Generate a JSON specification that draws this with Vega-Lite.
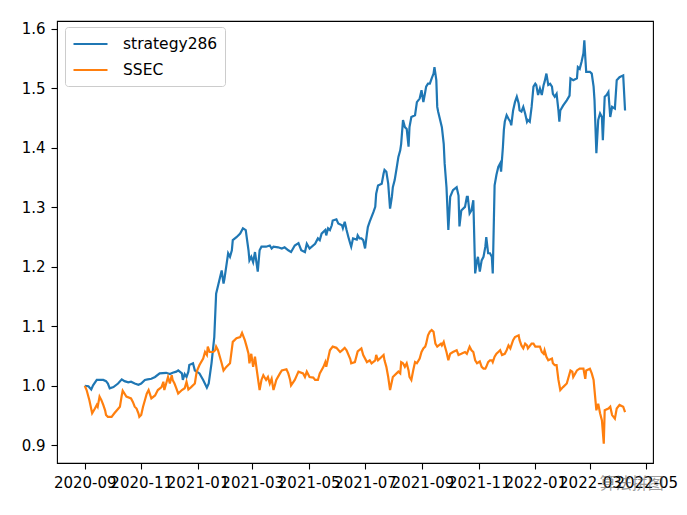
{
  "$schema": "https://vega.github.io/schema/vega-lite/v6.json",
  "width": 596,
  "height": 442,
  "autosize": {"type": "none"},
  "padding": {"left": 57, "top": 21, "right": 34, "bottom": 52},
  "background": "white",
  "config": {
    "font": "DejaVu Sans",
    "view": {"stroke": "black", "strokeWidth": 1.1},
    "axis": {"domain": false, "grid": false, "ticks": true, "tickColor": "black", "tickSize": 6, "tickWidth": 1.1, "labelFont": "DejaVu Sans", "labelFontSize": 15, "labelColor": "black", "labelPadding": 6, "title": null, "labelOverlap": false, "labelFlush": false, "labelBound": false}
  },
  "title": {"text": "算法拼图", "orient": "bottom", "anchor": "end", "font": "Noto Sans CJK SC", "fontSize": 16, "fontWeight": "normal", "color": "rgba(90,90,90,0.6)", "offset": -14, "dx": -14},
  "datasets": {
    "rows": [
      {"date":"2020-09-01","series":"strategy286","value":1.000},
      {"date":"2020-09-05","series":"strategy286","value":0.9995},
      {"date":"2020-09-08","series":"strategy286","value":0.994},
      {"date":"2020-09-10","series":"strategy286","value":1.001},
      {"date":"2020-09-14","series":"strategy286","value":1.010},
      {"date":"2020-09-21","series":"strategy286","value":1.010},
      {"date":"2020-09-24","series":"strategy286","value":1.008},
      {"date":"2020-09-26","series":"strategy286","value":1.004},
      {"date":"2020-09-28","series":"strategy286","value":0.996},
      {"date":"2020-10-02","series":"strategy286","value":0.998},
      {"date":"2020-10-07","series":"strategy286","value":1.004},
      {"date":"2020-10-11","series":"strategy286","value":1.011},
      {"date":"2020-10-14","series":"strategy286","value":1.008},
      {"date":"2020-10-18","series":"strategy286","value":1.006},
      {"date":"2020-10-21","series":"strategy286","value":1.007},
      {"date":"2020-10-25","series":"strategy286","value":1.004},
      {"date":"2020-10-29","series":"strategy286","value":1.002},
      {"date":"2020-11-01","series":"strategy286","value":1.004},
      {"date":"2020-11-05","series":"strategy286","value":1.010},
      {"date":"2020-11-08","series":"strategy286","value":1.011},
      {"date":"2020-11-12","series":"strategy286","value":1.012},
      {"date":"2020-11-16","series":"strategy286","value":1.015},
      {"date":"2020-11-21","series":"strategy286","value":1.021},
      {"date":"2020-11-28","series":"strategy286","value":1.022},
      {"date":"2020-12-02","series":"strategy286","value":1.020},
      {"date":"2020-12-05","series":"strategy286","value":1.022},
      {"date":"2020-12-09","series":"strategy286","value":1.024},
      {"date":"2020-12-11","series":"strategy286","value":1.026},
      {"date":"2020-12-15","series":"strategy286","value":1.021},
      {"date":"2020-12-16","series":"strategy286","value":1.010},
      {"date":"2020-12-18","series":"strategy286","value":1.020},
      {"date":"2020-12-20","series":"strategy286","value":1.015},
      {"date":"2020-12-22","series":"strategy286","value":1.024},
      {"date":"2020-12-23","series":"strategy286","value":1.035},
      {"date":"2020-12-27","series":"strategy286","value":1.038},
      {"date":"2020-12-29","series":"strategy286","value":1.026},
      {"date":"2020-12-31","series":"strategy286","value":1.024},
      {"date":"2021-01-03","series":"strategy286","value":1.021},
      {"date":"2021-01-07","series":"strategy286","value":1.010},
      {"date":"2021-01-11","series":"strategy286","value":0.997},
      {"date":"2021-01-13","series":"strategy286","value":1.004},
      {"date":"2021-01-16","series":"strategy286","value":1.038},
      {"date":"2021-01-19","series":"strategy286","value":1.082},
      {"date":"2021-01-21","series":"strategy286","value":1.155},
      {"date":"2021-01-27","series":"strategy286","value":1.194},
      {"date":"2021-01-29","series":"strategy286","value":1.172},
      {"date":"2021-01-30","series":"strategy286","value":1.180},
      {"date":"2021-02-03","series":"strategy286","value":1.223},
      {"date":"2021-02-05","series":"strategy286","value":1.217},
      {"date":"2021-02-07","series":"strategy286","value":1.228},
      {"date":"2021-02-08","series":"strategy286","value":1.245},
      {"date":"2021-02-12","series":"strategy286","value":1.250},
      {"date":"2021-02-16","series":"strategy286","value":1.256},
      {"date":"2021-02-19","series":"strategy286","value":1.265},
      {"date":"2021-02-22","series":"strategy286","value":1.262},
      {"date":"2021-02-25","series":"strategy286","value":1.228},
      {"date":"2021-02-26","series":"strategy286","value":1.211},
      {"date":"2021-02-28","series":"strategy286","value":1.217},
      {"date":"2021-03-02","series":"strategy286","value":1.208},
      {"date":"2021-03-04","series":"strategy286","value":1.225},
      {"date":"2021-03-06","series":"strategy286","value":1.203},
      {"date":"2021-03-07","series":"strategy286","value":1.192},
      {"date":"2021-03-09","series":"strategy286","value":1.228},
      {"date":"2021-03-11","series":"strategy286","value":1.234},
      {"date":"2021-03-16","series":"strategy286","value":1.234},
      {"date":"2021-03-20","series":"strategy286","value":1.236},
      {"date":"2021-03-22","series":"strategy286","value":1.231},
      {"date":"2021-03-24","series":"strategy286","value":1.234},
      {"date":"2021-03-29","series":"strategy286","value":1.233},
      {"date":"2021-04-02","series":"strategy286","value":1.231},
      {"date":"2021-04-05","series":"strategy286","value":1.233},
      {"date":"2021-04-09","series":"strategy286","value":1.228},
      {"date":"2021-04-12","series":"strategy286","value":1.225},
      {"date":"2021-04-16","series":"strategy286","value":1.236},
      {"date":"2021-04-20","series":"strategy286","value":1.240},
      {"date":"2021-04-23","series":"strategy286","value":1.228},
      {"date":"2021-04-27","series":"strategy286","value":1.225},
      {"date":"2021-04-29","series":"strategy286","value":1.239},
      {"date":"2021-05-02","series":"strategy286","value":1.231},
      {"date":"2021-05-08","series":"strategy286","value":1.239},
      {"date":"2021-05-11","series":"strategy286","value":1.248},
      {"date":"2021-05-13","series":"strategy286","value":1.245},
      {"date":"2021-05-15","series":"strategy286","value":1.256},
      {"date":"2021-05-19","series":"strategy286","value":1.262},
      {"date":"2021-05-20","series":"strategy286","value":1.253},
      {"date":"2021-05-22","series":"strategy286","value":1.265},
      {"date":"2021-05-24","series":"strategy286","value":1.262},
      {"date":"2021-05-26","series":"strategy286","value":1.270},
      {"date":"2021-05-27","series":"strategy286","value":1.278},
      {"date":"2021-05-31","series":"strategy286","value":1.280},
      {"date":"2021-06-02","series":"strategy286","value":1.273},
      {"date":"2021-06-06","series":"strategy286","value":1.270},
      {"date":"2021-06-07","series":"strategy286","value":1.265},
      {"date":"2021-06-09","series":"strategy286","value":1.276},
      {"date":"2021-06-11","series":"strategy286","value":1.262},
      {"date":"2021-06-13","series":"strategy286","value":1.250},
      {"date":"2021-06-15","series":"strategy286","value":1.239},
      {"date":"2021-06-16","series":"strategy286","value":1.234},
      {"date":"2021-06-18","series":"strategy286","value":1.248},
      {"date":"2021-06-22","series":"strategy286","value":1.246},
      {"date":"2021-06-23","series":"strategy286","value":1.253},
      {"date":"2021-06-25","series":"strategy286","value":1.248},
      {"date":"2021-06-27","series":"strategy286","value":1.248},
      {"date":"2021-06-29","series":"strategy286","value":1.245},
      {"date":"2021-07-01","series":"strategy286","value":1.231},
      {"date":"2021-07-03","series":"strategy286","value":1.256},
      {"date":"2021-07-04","series":"strategy286","value":1.267},
      {"date":"2021-07-06","series":"strategy286","value":1.276},
      {"date":"2021-07-08","series":"strategy286","value":1.284},
      {"date":"2021-07-10","series":"strategy286","value":1.292},
      {"date":"2021-07-12","series":"strategy286","value":1.301},
      {"date":"2021-07-13","series":"strategy286","value":1.323},
      {"date":"2021-07-15","series":"strategy286","value":1.337},
      {"date":"2021-07-19","series":"strategy286","value":1.340},
      {"date":"2021-07-21","series":"strategy286","value":1.357},
      {"date":"2021-07-22","series":"strategy286","value":1.363},
      {"date":"2021-07-24","series":"strategy286","value":1.360},
      {"date":"2021-07-26","series":"strategy286","value":1.340},
      {"date":"2021-07-28","series":"strategy286","value":1.298},
      {"date":"2021-07-30","series":"strategy286","value":1.318},
      {"date":"2021-07-31","series":"strategy286","value":1.334},
      {"date":"2021-08-02","series":"strategy286","value":1.346},
      {"date":"2021-08-04","series":"strategy286","value":1.365},
      {"date":"2021-08-06","series":"strategy286","value":1.385},
      {"date":"2021-08-08","series":"strategy286","value":1.396},
      {"date":"2021-08-09","series":"strategy286","value":1.407},
      {"date":"2021-08-11","series":"strategy286","value":1.447},
      {"date":"2021-08-13","series":"strategy286","value":1.435},
      {"date":"2021-08-15","series":"strategy286","value":1.432},
      {"date":"2021-08-17","series":"strategy286","value":1.402},
      {"date":"2021-08-18","series":"strategy286","value":1.435},
      {"date":"2021-08-20","series":"strategy286","value":1.452},
      {"date":"2021-08-24","series":"strategy286","value":1.455},
      {"date":"2021-08-26","series":"strategy286","value":1.477},
      {"date":"2021-08-29","series":"strategy286","value":1.483},
      {"date":"2021-08-31","series":"strategy286","value":1.497},
      {"date":"2021-09-02","series":"strategy286","value":1.477},
      {"date":"2021-09-04","series":"strategy286","value":1.494},
      {"date":"2021-09-05","series":"strategy286","value":1.503},
      {"date":"2021-09-07","series":"strategy286","value":1.508},
      {"date":"2021-09-09","series":"strategy286","value":1.508},
      {"date":"2021-09-11","series":"strategy286","value":1.517},
      {"date":"2021-09-13","series":"strategy286","value":1.525},
      {"date":"2021-09-14","series":"strategy286","value":1.536},
      {"date":"2021-09-16","series":"strategy286","value":1.514},
      {"date":"2021-09-17","series":"strategy286","value":1.469},
      {"date":"2021-09-18","series":"strategy286","value":1.461},
      {"date":"2021-09-22","series":"strategy286","value":1.435},
      {"date":"2021-09-24","series":"strategy286","value":1.407},
      {"date":"2021-09-25","series":"strategy286","value":1.374},
      {"date":"2021-09-27","series":"strategy286","value":1.334},
      {"date":"2021-09-29","series":"strategy286","value":1.262},
      {"date":"2021-10-01","series":"strategy286","value":1.318},
      {"date":"2021-10-04","series":"strategy286","value":1.329},
      {"date":"2021-10-08","series":"strategy286","value":1.334},
      {"date":"2021-10-10","series":"strategy286","value":1.320},
      {"date":"2021-10-11","series":"strategy286","value":1.268},
      {"date":"2021-10-13","series":"strategy286","value":1.295},
      {"date":"2021-10-17","series":"strategy286","value":1.301},
      {"date":"2021-10-19","series":"strategy286","value":1.318},
      {"date":"2021-10-20","series":"strategy286","value":1.318},
      {"date":"2021-10-22","series":"strategy286","value":1.290},
      {"date":"2021-10-24","series":"strategy286","value":1.295},
      {"date":"2021-10-26","series":"strategy286","value":1.312},
      {"date":"2021-10-28","series":"strategy286","value":1.189},
      {"date":"2021-10-30","series":"strategy286","value":1.211},
      {"date":"2021-10-31","series":"strategy286","value":1.217},
      {"date":"2021-11-02","series":"strategy286","value":1.192},
      {"date":"2021-11-04","series":"strategy286","value":1.211},
      {"date":"2021-11-06","series":"strategy286","value":1.217},
      {"date":"2021-11-08","series":"strategy286","value":1.234},
      {"date":"2021-11-09","series":"strategy286","value":1.250},
      {"date":"2021-11-11","series":"strategy286","value":1.223},
      {"date":"2021-11-13","series":"strategy286","value":1.223},
      {"date":"2021-11-15","series":"strategy286","value":1.217},
      {"date":"2021-11-16","series":"strategy286","value":1.189},
      {"date":"2021-11-18","series":"strategy286","value":1.337},
      {"date":"2021-11-20","series":"strategy286","value":1.355},
      {"date":"2021-11-22","series":"strategy286","value":1.368},
      {"date":"2021-11-24","series":"strategy286","value":1.374},
      {"date":"2021-11-25","series":"strategy286","value":1.360},
      {"date":"2021-11-27","series":"strategy286","value":1.402},
      {"date":"2021-11-28","series":"strategy286","value":1.430},
      {"date":"2021-11-29","series":"strategy286","value":1.444},
      {"date":"2021-12-01","series":"strategy286","value":1.455},
      {"date":"2021-12-03","series":"strategy286","value":1.449},
      {"date":"2021-12-05","series":"strategy286","value":1.444},
      {"date":"2021-12-06","series":"strategy286","value":1.438},
      {"date":"2021-12-08","series":"strategy286","value":1.463},
      {"date":"2021-12-10","series":"strategy286","value":1.477},
      {"date":"2021-12-12","series":"strategy286","value":1.486},
      {"date":"2021-12-14","series":"strategy286","value":1.475},
      {"date":"2021-12-15","series":"strategy286","value":1.463},
      {"date":"2021-12-17","series":"strategy286","value":1.461},
      {"date":"2021-12-19","series":"strategy286","value":1.469},
      {"date":"2021-12-21","series":"strategy286","value":1.458},
      {"date":"2021-12-23","series":"strategy286","value":1.444},
      {"date":"2021-12-24","series":"strategy286","value":1.447},
      {"date":"2021-12-26","series":"strategy286","value":1.444},
      {"date":"2021-12-28","series":"strategy286","value":1.469},
      {"date":"2021-12-30","series":"strategy286","value":1.503},
      {"date":"2022-01-01","series":"strategy286","value":1.508},
      {"date":"2022-01-02","series":"strategy286","value":1.506},
      {"date":"2022-01-04","series":"strategy286","value":1.489},
      {"date":"2022-01-06","series":"strategy286","value":1.500},
      {"date":"2022-01-08","series":"strategy286","value":1.489},
      {"date":"2022-01-10","series":"strategy286","value":1.506},
      {"date":"2022-01-11","series":"strategy286","value":1.511},
      {"date":"2022-01-13","series":"strategy286","value":1.525},
      {"date":"2022-01-15","series":"strategy286","value":1.506},
      {"date":"2022-01-17","series":"strategy286","value":1.508},
      {"date":"2022-01-19","series":"strategy286","value":1.503},
      {"date":"2022-01-20","series":"strategy286","value":1.491},
      {"date":"2022-01-22","series":"strategy286","value":1.486},
      {"date":"2022-01-24","series":"strategy286","value":1.491},
      {"date":"2022-01-26","series":"strategy286","value":1.463},
      {"date":"2022-01-27","series":"strategy286","value":1.444},
      {"date":"2022-01-28","series":"strategy286","value":1.463},
      {"date":"2022-01-31","series":"strategy286","value":1.471},
      {"date":"2022-02-04","series":"strategy286","value":1.480},
      {"date":"2022-02-07","series":"strategy286","value":1.488},
      {"date":"2022-02-08","series":"strategy286","value":1.517},
      {"date":"2022-02-11","series":"strategy286","value":1.514},
      {"date":"2022-02-15","series":"strategy286","value":1.517},
      {"date":"2022-02-16","series":"strategy286","value":1.536},
      {"date":"2022-02-18","series":"strategy286","value":1.533},
      {"date":"2022-02-20","series":"strategy286","value":1.545},
      {"date":"2022-02-22","series":"strategy286","value":1.559},
      {"date":"2022-02-23","series":"strategy286","value":1.581},
      {"date":"2022-02-24","series":"strategy286","value":1.553},
      {"date":"2022-02-25","series":"strategy286","value":1.528},
      {"date":"2022-03-01","series":"strategy286","value":1.528},
      {"date":"2022-03-03","series":"strategy286","value":1.525},
      {"date":"2022-03-05","series":"strategy286","value":1.503},
      {"date":"2022-03-06","series":"strategy286","value":1.480},
      {"date":"2022-03-08","series":"strategy286","value":1.391},
      {"date":"2022-03-10","series":"strategy286","value":1.447},
      {"date":"2022-03-12","series":"strategy286","value":1.458},
      {"date":"2022-03-14","series":"strategy286","value":1.452},
      {"date":"2022-03-15","series":"strategy286","value":1.413},
      {"date":"2022-03-17","series":"strategy286","value":1.486},
      {"date":"2022-03-19","series":"strategy286","value":1.489},
      {"date":"2022-03-21","series":"strategy286","value":1.494},
      {"date":"2022-03-23","series":"strategy286","value":1.452},
      {"date":"2022-03-25","series":"strategy286","value":1.469},
      {"date":"2022-03-28","series":"strategy286","value":1.466},
      {"date":"2022-03-30","series":"strategy286","value":1.514},
      {"date":"2022-04-02","series":"strategy286","value":1.519},
      {"date":"2022-04-06","series":"strategy286","value":1.522},
      {"date":"2022-04-08","series":"strategy286","value":1.463},
      {"date":"2020-09-01","series":"SSEC","value":1.000},
      {"date":"2020-09-03","series":"SSEC","value":0.993},
      {"date":"2020-09-06","series":"SSEC","value":0.976},
      {"date":"2020-09-09","series":"SSEC","value":0.954},
      {"date":"2020-09-12","series":"SSEC","value":0.962},
      {"date":"2020-09-14","series":"SSEC","value":0.968},
      {"date":"2020-09-15","series":"SSEC","value":0.965},
      {"date":"2020-09-17","series":"SSEC","value":0.982},
      {"date":"2020-09-19","series":"SSEC","value":0.976},
      {"date":"2020-09-21","series":"SSEC","value":0.968},
      {"date":"2020-09-23","series":"SSEC","value":0.959},
      {"date":"2020-09-24","series":"SSEC","value":0.951},
      {"date":"2020-09-26","series":"SSEC","value":0.948},
      {"date":"2020-09-30","series":"SSEC","value":0.948},
      {"date":"2020-10-03","series":"SSEC","value":0.954},
      {"date":"2020-10-09","series":"SSEC","value":0.965},
      {"date":"2020-10-11","series":"SSEC","value":0.984},
      {"date":"2020-10-12","series":"SSEC","value":0.992},
      {"date":"2020-10-16","series":"SSEC","value":0.982},
      {"date":"2020-10-21","series":"SSEC","value":0.979},
      {"date":"2020-10-23","series":"SSEC","value":0.973},
      {"date":"2020-10-25","series":"SSEC","value":0.965},
      {"date":"2020-10-27","series":"SSEC","value":0.962},
      {"date":"2020-10-29","series":"SSEC","value":0.954},
      {"date":"2020-10-30","series":"SSEC","value":0.948},
      {"date":"2020-11-01","series":"SSEC","value":0.951},
      {"date":"2020-11-03","series":"SSEC","value":0.965},
      {"date":"2020-11-05","series":"SSEC","value":0.976},
      {"date":"2020-11-07","series":"SSEC","value":0.987},
      {"date":"2020-11-09","series":"SSEC","value":0.993},
      {"date":"2020-11-12","series":"SSEC","value":0.979},
      {"date":"2020-11-16","series":"SSEC","value":0.984},
      {"date":"2020-11-19","series":"SSEC","value":0.993},
      {"date":"2020-11-23","series":"SSEC","value":0.998},
      {"date":"2020-11-25","series":"SSEC","value":1.007},
      {"date":"2020-11-26","series":"SSEC","value":0.993},
      {"date":"2020-11-30","series":"SSEC","value":1.015},
      {"date":"2020-12-02","series":"SSEC","value":1.004},
      {"date":"2020-12-04","series":"SSEC","value":1.018},
      {"date":"2020-12-05","series":"SSEC","value":1.010},
      {"date":"2020-12-07","series":"SSEC","value":1.004},
      {"date":"2020-12-09","series":"SSEC","value":0.996},
      {"date":"2020-12-11","series":"SSEC","value":0.987},
      {"date":"2020-12-15","series":"SSEC","value":0.993},
      {"date":"2020-12-18","series":"SSEC","value":0.996},
      {"date":"2020-12-20","series":"SSEC","value":1.007},
      {"date":"2020-12-22","series":"SSEC","value":0.994},
      {"date":"2020-12-25","series":"SSEC","value":0.998},
      {"date":"2020-12-29","series":"SSEC","value":1.004},
      {"date":"2020-12-31","series":"SSEC","value":1.024},
      {"date":"2021-01-03","series":"SSEC","value":1.035},
      {"date":"2021-01-07","series":"SSEC","value":1.046},
      {"date":"2021-01-09","series":"SSEC","value":1.057},
      {"date":"2021-01-11","series":"SSEC","value":1.052},
      {"date":"2021-01-12","series":"SSEC","value":1.066},
      {"date":"2021-01-14","series":"SSEC","value":1.057},
      {"date":"2021-01-16","series":"SSEC","value":1.057},
      {"date":"2021-01-18","series":"SSEC","value":1.057},
      {"date":"2021-01-20","series":"SSEC","value":1.060},
      {"date":"2021-01-21","series":"SSEC","value":1.066},
      {"date":"2021-01-23","series":"SSEC","value":1.060},
      {"date":"2021-01-25","series":"SSEC","value":1.049},
      {"date":"2021-01-27","series":"SSEC","value":1.038},
      {"date":"2021-01-29","series":"SSEC","value":1.026},
      {"date":"2021-02-01","series":"SSEC","value":1.032},
      {"date":"2021-02-05","series":"SSEC","value":1.038},
      {"date":"2021-02-08","series":"SSEC","value":1.074},
      {"date":"2021-02-12","series":"SSEC","value":1.080},
      {"date":"2021-02-16","series":"SSEC","value":1.082},
      {"date":"2021-02-18","series":"SSEC","value":1.089},
      {"date":"2021-02-21","series":"SSEC","value":1.077},
      {"date":"2021-02-23","series":"SSEC","value":1.066},
      {"date":"2021-02-25","series":"SSEC","value":1.054},
      {"date":"2021-02-26","series":"SSEC","value":1.038},
      {"date":"2021-02-28","series":"SSEC","value":1.054},
      {"date":"2021-03-02","series":"SSEC","value":1.032},
      {"date":"2021-03-04","series":"SSEC","value":1.049},
      {"date":"2021-03-06","series":"SSEC","value":1.026},
      {"date":"2021-03-07","series":"SSEC","value":1.015},
      {"date":"2021-03-09","series":"SSEC","value":0.993},
      {"date":"2021-03-11","series":"SSEC","value":1.010},
      {"date":"2021-03-13","series":"SSEC","value":1.018},
      {"date":"2021-03-16","series":"SSEC","value":1.010},
      {"date":"2021-03-18","series":"SSEC","value":1.015},
      {"date":"2021-03-20","series":"SSEC","value":1.004},
      {"date":"2021-03-22","series":"SSEC","value":1.012},
      {"date":"2021-03-24","series":"SSEC","value":0.993},
      {"date":"2021-03-26","series":"SSEC","value":1.004},
      {"date":"2021-03-27","series":"SSEC","value":1.010},
      {"date":"2021-03-31","series":"SSEC","value":1.021},
      {"date":"2021-04-02","series":"SSEC","value":1.026},
      {"date":"2021-04-07","series":"SSEC","value":1.028},
      {"date":"2021-04-09","series":"SSEC","value":1.021},
      {"date":"2021-04-11","series":"SSEC","value":1.010},
      {"date":"2021-04-12","series":"SSEC","value":1.001},
      {"date":"2021-04-16","series":"SSEC","value":1.010},
      {"date":"2021-04-20","series":"SSEC","value":1.024},
      {"date":"2021-04-25","series":"SSEC","value":1.021},
      {"date":"2021-04-27","series":"SSEC","value":1.015},
      {"date":"2021-04-29","series":"SSEC","value":1.024},
      {"date":"2021-05-02","series":"SSEC","value":1.015},
      {"date":"2021-05-06","series":"SSEC","value":1.014},
      {"date":"2021-05-08","series":"SSEC","value":1.010},
      {"date":"2021-05-11","series":"SSEC","value":1.010},
      {"date":"2021-05-13","series":"SSEC","value":1.021},
      {"date":"2021-05-17","series":"SSEC","value":1.032},
      {"date":"2021-05-19","series":"SSEC","value":1.040},
      {"date":"2021-05-20","series":"SSEC","value":1.032},
      {"date":"2021-05-24","series":"SSEC","value":1.060},
      {"date":"2021-05-27","series":"SSEC","value":1.066},
      {"date":"2021-05-31","series":"SSEC","value":1.064},
      {"date":"2021-06-04","series":"SSEC","value":1.057},
      {"date":"2021-06-07","series":"SSEC","value":1.061},
      {"date":"2021-06-09","series":"SSEC","value":1.064},
      {"date":"2021-06-11","series":"SSEC","value":1.060},
      {"date":"2021-06-15","series":"SSEC","value":1.045},
      {"date":"2021-06-16","series":"SSEC","value":1.038},
      {"date":"2021-06-20","series":"SSEC","value":1.040},
      {"date":"2021-06-23","series":"SSEC","value":1.058},
      {"date":"2021-06-27","series":"SSEC","value":1.063},
      {"date":"2021-06-29","series":"SSEC","value":1.052},
      {"date":"2021-07-03","series":"SSEC","value":1.040},
      {"date":"2021-07-06","series":"SSEC","value":1.043},
      {"date":"2021-07-08","series":"SSEC","value":1.038},
      {"date":"2021-07-12","series":"SSEC","value":1.043},
      {"date":"2021-07-13","series":"SSEC","value":1.052},
      {"date":"2021-07-15","series":"SSEC","value":1.043},
      {"date":"2021-07-19","series":"SSEC","value":1.049},
      {"date":"2021-07-21","series":"SSEC","value":1.052},
      {"date":"2021-07-22","series":"SSEC","value":1.043},
      {"date":"2021-07-24","series":"SSEC","value":1.032},
      {"date":"2021-07-26","series":"SSEC","value":1.015},
      {"date":"2021-07-28","series":"SSEC","value":0.993},
      {"date":"2021-07-31","series":"SSEC","value":1.015},
      {"date":"2021-08-04","series":"SSEC","value":1.021},
      {"date":"2021-08-06","series":"SSEC","value":1.024},
      {"date":"2021-08-08","series":"SSEC","value":1.021},
      {"date":"2021-08-09","series":"SSEC","value":1.040},
      {"date":"2021-08-11","series":"SSEC","value":1.038},
      {"date":"2021-08-13","series":"SSEC","value":1.032},
      {"date":"2021-08-15","series":"SSEC","value":1.038},
      {"date":"2021-08-17","series":"SSEC","value":1.026},
      {"date":"2021-08-18","series":"SSEC","value":1.015},
      {"date":"2021-08-20","series":"SSEC","value":1.010},
      {"date":"2021-08-22","series":"SSEC","value":1.026},
      {"date":"2021-08-24","series":"SSEC","value":1.040},
      {"date":"2021-08-26","series":"SSEC","value":1.038},
      {"date":"2021-08-29","series":"SSEC","value":1.046},
      {"date":"2021-08-31","series":"SSEC","value":1.057},
      {"date":"2021-09-02","series":"SSEC","value":1.063},
      {"date":"2021-09-04","series":"SSEC","value":1.066},
      {"date":"2021-09-05","series":"SSEC","value":1.071},
      {"date":"2021-09-07","series":"SSEC","value":1.085},
      {"date":"2021-09-09","series":"SSEC","value":1.091},
      {"date":"2021-09-11","series":"SSEC","value":1.094},
      {"date":"2021-09-13","series":"SSEC","value":1.091},
      {"date":"2021-09-15","series":"SSEC","value":1.071},
      {"date":"2021-09-17","series":"SSEC","value":1.066},
      {"date":"2021-09-21","series":"SSEC","value":1.071},
      {"date":"2021-09-22","series":"SSEC","value":1.068},
      {"date":"2021-09-24","series":"SSEC","value":1.074},
      {"date":"2021-09-25","series":"SSEC","value":1.068},
      {"date":"2021-09-27","series":"SSEC","value":1.057},
      {"date":"2021-09-29","series":"SSEC","value":1.043},
      {"date":"2021-10-01","series":"SSEC","value":1.054},
      {"date":"2021-10-04","series":"SSEC","value":1.057},
      {"date":"2021-10-08","series":"SSEC","value":1.060},
      {"date":"2021-10-10","series":"SSEC","value":1.052},
      {"date":"2021-10-13","series":"SSEC","value":1.054},
      {"date":"2021-10-17","series":"SSEC","value":1.057},
      {"date":"2021-10-19","series":"SSEC","value":1.054},
      {"date":"2021-10-22","series":"SSEC","value":1.066},
      {"date":"2021-10-24","series":"SSEC","value":1.060},
      {"date":"2021-10-26","series":"SSEC","value":1.057},
      {"date":"2021-10-28","series":"SSEC","value":1.043},
      {"date":"2021-10-30","series":"SSEC","value":1.038},
      {"date":"2021-11-02","series":"SSEC","value":1.041},
      {"date":"2021-11-04","series":"SSEC","value":1.032},
      {"date":"2021-11-06","series":"SSEC","value":1.029},
      {"date":"2021-11-08","series":"SSEC","value":1.029},
      {"date":"2021-11-09","series":"SSEC","value":1.032},
      {"date":"2021-11-11","series":"SSEC","value":1.040},
      {"date":"2021-11-13","series":"SSEC","value":1.043},
      {"date":"2021-11-15","series":"SSEC","value":1.043},
      {"date":"2021-11-16","series":"SSEC","value":1.040},
      {"date":"2021-11-18","series":"SSEC","value":1.049},
      {"date":"2021-11-20","series":"SSEC","value":1.054},
      {"date":"2021-11-22","series":"SSEC","value":1.057},
      {"date":"2021-11-24","series":"SSEC","value":1.060},
      {"date":"2021-11-26","series":"SSEC","value":1.052},
      {"date":"2021-11-29","series":"SSEC","value":1.054},
      {"date":"2021-12-01","series":"SSEC","value":1.060},
      {"date":"2021-12-03","series":"SSEC","value":1.068},
      {"date":"2021-12-05","series":"SSEC","value":1.063},
      {"date":"2021-12-08","series":"SSEC","value":1.077},
      {"date":"2021-12-10","series":"SSEC","value":1.082},
      {"date":"2021-12-14","series":"SSEC","value":1.085},
      {"date":"2021-12-15","series":"SSEC","value":1.077},
      {"date":"2021-12-17","series":"SSEC","value":1.068},
      {"date":"2021-12-19","series":"SSEC","value":1.063},
      {"date":"2021-12-21","series":"SSEC","value":1.071},
      {"date":"2021-12-23","series":"SSEC","value":1.068},
      {"date":"2021-12-24","series":"SSEC","value":1.063},
      {"date":"2021-12-28","series":"SSEC","value":1.071},
      {"date":"2021-12-30","series":"SSEC","value":1.071},
      {"date":"2022-01-01","series":"SSEC","value":1.066},
      {"date":"2022-01-06","series":"SSEC","value":1.066},
      {"date":"2022-01-08","series":"SSEC","value":1.057},
      {"date":"2022-01-10","series":"SSEC","value":1.054},
      {"date":"2022-01-11","series":"SSEC","value":1.060},
      {"date":"2022-01-13","series":"SSEC","value":1.049},
      {"date":"2022-01-15","series":"SSEC","value":1.043},
      {"date":"2022-01-19","series":"SSEC","value":1.046},
      {"date":"2022-01-20","series":"SSEC","value":1.038},
      {"date":"2022-01-22","series":"SSEC","value":1.035},
      {"date":"2022-01-24","series":"SSEC","value":1.035},
      {"date":"2022-01-26","series":"SSEC","value":1.010},
      {"date":"2022-01-28","series":"SSEC","value":0.993},
      {"date":"2022-01-31","series":"SSEC","value":0.998},
      {"date":"2022-02-04","series":"SSEC","value":1.004},
      {"date":"2022-02-08","series":"SSEC","value":1.026},
      {"date":"2022-02-10","series":"SSEC","value":1.024},
      {"date":"2022-02-11","series":"SSEC","value":1.015},
      {"date":"2022-02-15","series":"SSEC","value":1.026},
      {"date":"2022-02-18","series":"SSEC","value":1.029},
      {"date":"2022-02-22","series":"SSEC","value":1.029},
      {"date":"2022-02-24","series":"SSEC","value":1.012},
      {"date":"2022-02-25","series":"SSEC","value":1.026},
      {"date":"2022-03-01","series":"SSEC","value":1.029},
      {"date":"2022-03-03","series":"SSEC","value":1.021},
      {"date":"2022-03-05","series":"SSEC","value":1.010},
      {"date":"2022-03-06","series":"SSEC","value":0.993},
      {"date":"2022-03-08","series":"SSEC","value":0.959},
      {"date":"2022-03-10","series":"SSEC","value":0.970},
      {"date":"2022-03-12","series":"SSEC","value":0.954},
      {"date":"2022-03-14","series":"SSEC","value":0.942},
      {"date":"2022-03-16","series":"SSEC","value":0.903},
      {"date":"2022-03-17","series":"SSEC","value":0.959},
      {"date":"2022-03-21","series":"SSEC","value":0.962},
      {"date":"2022-03-23","series":"SSEC","value":0.965},
      {"date":"2022-03-25","series":"SSEC","value":0.951},
      {"date":"2022-03-28","series":"SSEC","value":0.945},
      {"date":"2022-03-30","series":"SSEC","value":0.962},
      {"date":"2022-04-02","series":"SSEC","value":0.968},
      {"date":"2022-04-06","series":"SSEC","value":0.965},
      {"date":"2022-04-08","series":"SSEC","value":0.956}
    ]
  },
  "data": {"name": "rows"},
  "mark": {"type": "line", "strokeWidth": 2.2, "clip": true},
  "encoding": {
    "x": {
      "field": "date", "type": "temporal",
      "scale": {"type": "utc", "domain": [{"year": 2020, "month": 8, "date": 2, "utc": true}, {"year": 2022, "month": 5, "date": 8, "hours": 5, "utc": true}], "nice": false},
      "axis": {"format": "%Y-%m", "values": [
        {"year": 2020, "month": 9, "date": 1, "utc": true},
        {"year": 2020, "month": 11, "date": 1, "utc": true},
        {"year": 2021, "month": 1, "date": 1, "utc": true},
        {"year": 2021, "month": 3, "date": 1, "utc": true},
        {"year": 2021, "month": 5, "date": 1, "utc": true},
        {"year": 2021, "month": 7, "date": 1, "utc": true},
        {"year": 2021, "month": 9, "date": 1, "utc": true},
        {"year": 2021, "month": 11, "date": 1, "utc": true},
        {"year": 2022, "month": 1, "date": 1, "utc": true},
        {"year": 2022, "month": 3, "date": 1, "utc": true},
        {"year": 2022, "month": 5, "date": 1, "utc": true}
      ], "labelAngle": 0}
    },
    "y": {
      "field": "value", "type": "quantitative",
      "scale": {"domain": [0.8704, 1.6134], "zero": false, "nice": false},
      "axis": {"values": [0.9, 1.0, 1.1, 1.2, 1.3, 1.4, 1.5, 1.6], "format": ".1f"}
    },
    "color": {
      "field": "series", "type": "nominal",
      "scale": {"domain": ["strategy286", "SSEC"], "range": ["#1f77b4", "#ff7f0e"]},
      "legend": {"orient": "none", "legendX": 8, "legendY": 6, "title": null, "symbolType": "M-1,0H3", "symbolSize": 289, "symbolStrokeWidth": 2.2, "labelFontSize": 15.5, "labelFont": "DejaVu Sans", "labelColor": "black", "labelOffset": 31, "padding": 7, "rowPadding": 7, "strokeColor": "#cccccc", "cornerRadius": 3, "fillColor": "white"}
    }
  }
}
